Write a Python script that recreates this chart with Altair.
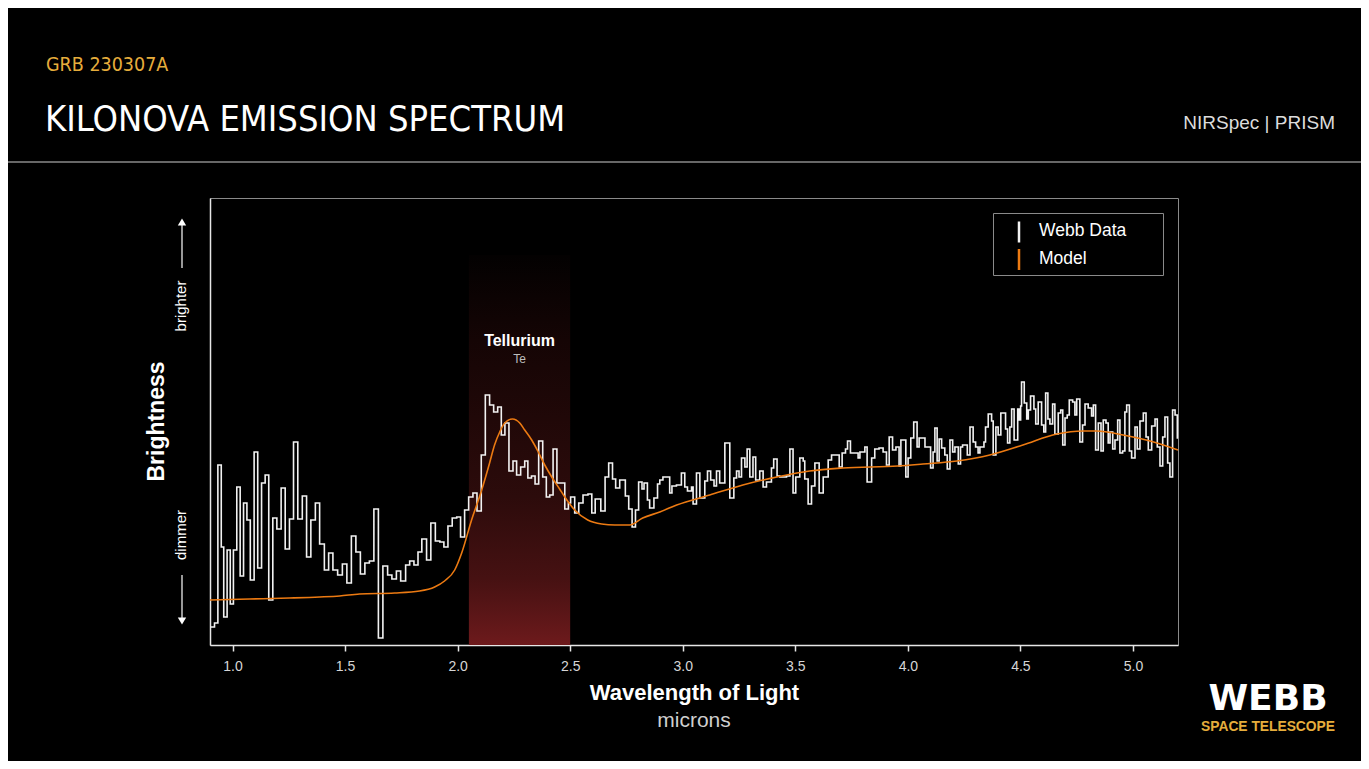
import altair as alt
import pandas as pd

# ---------------- data ----------------
# Webb data: step spectrum, bin left edges (microns) and brightness (arbitrary units)
wl_a = [0.902, 0.920, 0.935, 0.950, 0.961, 0.976, 0.990, 1.004, 1.019, 1.034,
        1.049, 1.064, 1.079, 1.096, 1.112, 1.129, 1.145, 1.161, 1.179, 1.197,
        1.216, 1.234, 1.253, 1.271, 1.290, 1.310, 1.329, 1.348, 1.368, 1.387,
        1.408, 1.427, 1.446, 1.467, 1.488, 1.508, 1.528, 1.548, 1.568, 1.588,
        1.608, 1.628, 1.648, 1.668, 1.689, 1.708, 1.728, 1.747]
fl_a = [0.18, 0.22, 1.80, 0.98, 0.28, 0.95, 0.41, 0.95, 1.58, 0.69,
        1.42, 1.25, 0.65, 1.93, 0.77, 1.62, 1.70, 0.45, 1.27, 1.16,
        1.57, 0.96, 1.26, 2.03, 1.26, 1.49, 0.88, 1.25, 1.42, 1.01,
        0.75, 0.92, 0.75, 0.70, 0.81, 0.62, 1.09, 0.93, 0.71, 0.82,
        0.84, 1.36, 0.07, 0.79, 0.70, 0.66, 0.74, 0.64]
wl_b = [1.769, 1.787, 1.806, 1.824, 1.841, 1.862, 1.881, 1.901, 1.921, 1.939,
        1.957, 1.976, 1.996, 2.013, 2.031, 2.049, 2.068, 2.086, 2.105, 2.123,
        2.142, 2.160, 2.178, 2.194, 2.210, 2.228, 2.246, 2.262, 2.280, 2.298,
        2.312, 2.328, 2.344, 2.360, 2.378, 2.394, 2.409, 2.424, 2.441, 2.458,
        2.476, 2.492, 2.502, 2.520, 2.538, 2.557, 2.579, 2.596, 2.611, 2.636, 2.655]
fl_b = [0.80, 0.84, 0.80, 0.93, 1.06, 0.85, 1.22, 1.04, 1.03, 0.98,
        1.19, 1.27, 1.28, 1.08, 1.35, 1.48, 1.52, 1.34, 1.90, 2.50,
        2.40, 2.33, 2.38, 2.10, 2.22, 1.74, 1.84, 1.70, 1.78, 1.84,
        1.67, 1.69, 1.61, 2.04, 1.68, 1.48, 1.50, 1.96, 1.62, 1.62,
        1.36, 1.42, 1.48, 1.32, 1.42, 1.50, 1.51, 1.32, 1.46, 1.34, 1.68]
wl_c = [2.671, 2.688, 2.702, 2.720, 2.745, 2.760, 2.775, 2.790, 2.804, 2.819,
        2.828, 2.843, 2.853, 2.872, 2.888, 2.898, 2.912, 2.942, 2.952, 2.972,
        2.994, 3.009, 3.021, 3.039, 3.046, 3.061, 3.076, 3.098, 3.110, 3.124,
        3.139, 3.150, 3.164, 3.187, 3.209, 3.227, 3.239, 3.250, 3.261, 3.276,
        3.286, 3.298, 3.312, 3.324, 3.342, 3.357, 3.372, 3.394, 3.404, 3.419,
        3.431, 3.461, 3.476, 3.490, 3.502, 3.520, 3.535, 3.542, 3.557, 3.572,
        3.587, 3.606, 3.624, 3.646, 3.661, 3.695, 3.708, 3.723, 3.732, 3.745,
        3.779, 3.787, 3.809, 3.819, 3.839, 3.853, 3.872, 3.890, 3.905]
fl_c = [1.82, 1.66, 1.57, 1.65, 1.49, 1.36, 1.18, 1.35, 1.63, 1.56,
        1.62, 1.45, 1.37, 1.47, 1.61, 1.65, 1.68, 1.52, 1.59, 1.60,
        1.72, 1.58, 1.54, 1.58, 1.41, 1.72, 1.47, 1.64, 1.74, 1.65,
        1.59, 1.74, 1.62, 2.02, 1.47, 1.67, 1.74, 1.68, 1.87, 1.78,
        1.96, 1.68, 1.88, 1.65, 1.74, 1.58, 1.63, 1.77, 1.86, 1.69,
        1.68, 1.69, 1.96, 1.52, 1.68, 1.87, 1.84, 1.66, 1.41, 1.59,
        1.82, 1.52, 1.68, 1.85, 1.90, 1.78, 1.92, 1.96, 2.04, 1.92,
        1.87, 1.93, 1.98, 1.63, 1.87, 1.96, 1.97, 1.93, 1.80]
wl_d = [3.917, 3.932, 3.947, 3.961, 3.969, 3.991, 4.001, 4.013, 4.026,
        4.041, 4.050, 4.076, 4.101, 4.112, 4.120, 4.130, 4.139, 4.150, 4.164,
        4.175, 4.187, 4.199, 4.209, 4.224, 4.234, 4.243, 4.264, 4.276, 4.290,
        4.301, 4.312, 4.320, 4.338, 4.345, 4.357, 4.372, 4.379, 4.391, 4.401,
        4.413, 4.434, 4.443, 4.453, 4.461, 4.472, 4.488, 4.495, 4.501, 4.505,
        4.517, 4.528, 4.535, 4.545, 4.560, 4.568, 4.579, 4.594, 4.604, 4.612,
        4.622, 4.631, 4.643, 4.653, 4.668, 4.679, 4.688, 4.698, 4.708, 4.717,
        4.732, 4.742, 4.750, 4.764, 4.776, 4.787, 4.801, 4.816, 4.824, 4.834,
        4.846, 4.858, 4.868, 4.880, 4.890, 4.898, 4.910, 4.920, 4.932, 4.942,
        4.954, 4.964, 4.972, 4.984, 4.994, 5.009, 5.019, 5.031, 5.046, 5.058,
        5.068, 5.083, 5.098, 5.108, 5.120, 5.132, 5.142, 5.154, 5.164, 5.176,
        5.187, 5.197, 5.200]
fl_d = [2.08, 1.95, 1.98, 1.79, 2.05, 1.68, 1.87, 2.07, 2.23,
        1.98, 2.07, 1.98, 1.77, 1.93, 2.17, 1.84, 2.06, 1.97, 1.90,
        1.76, 2.05, 1.93, 1.98, 1.81, 1.98, 2.00, 1.90, 2.18, 2.03,
        1.98, 1.92, 1.98, 2.03, 2.18, 2.31, 2.24, 1.90, 2.18, 2.10,
        2.32, 2.16, 2.02, 2.18, 2.36, 2.05, 2.36, 2.25, 2.39, 2.63,
        2.42, 2.26, 2.35, 2.49, 2.36, 2.21, 2.43, 2.20, 2.13, 2.52,
        2.26, 2.21, 2.41, 2.11, 2.32, 2.35, 2.00, 2.27, 2.30, 2.45,
        2.43, 2.30, 2.46, 2.03, 2.20, 2.41, 2.37, 2.29, 2.40, 1.95,
        2.22, 1.94, 2.25, 2.22, 2.02, 2.13, 1.96, 2.05, 2.25, 1.92,
        1.94, 2.33, 2.40, 1.94, 1.87, 2.18, 1.96, 2.24, 2.32, 2.08,
        1.95, 2.19, 2.26, 1.98, 1.79, 2.08, 2.28, 1.82, 1.68, 2.35,
        2.30, 2.07, 2.07]

# Model curve
model_wl = [0.900, 1.076, 1.253, 1.387, 1.476, 1.564, 1.720, 1.831, 1.898, 1.942,
            1.987, 2.018, 2.062, 2.107, 2.142, 2.164, 2.187, 2.209, 2.244, 2.276,
            2.298, 2.329, 2.356, 2.387, 2.418, 2.453, 2.476, 2.520, 2.578, 2.640,
            2.698, 2.764, 2.822, 2.898, 2.973, 3.120, 3.267, 3.418, 3.564, 3.711,
            3.956, 4.067, 4.218, 4.364, 4.511, 4.662, 4.778, 4.840, 4.956, 5.076, 5.200]
model_flux = [0.45, 0.46, 0.47, 0.48, 0.49, 0.51, 0.52, 0.54, 0.58, 0.64,
              0.75, 0.92, 1.25, 1.55, 1.82, 2.00, 2.13, 2.22, 2.26, 2.22,
              2.15, 2.05, 1.94, 1.80, 1.68, 1.56, 1.48, 1.35, 1.25, 1.21,
              1.20, 1.20, 1.27, 1.33, 1.40, 1.50, 1.60, 1.68, 1.74, 1.77,
              1.79, 1.81, 1.84, 1.90, 2.00, 2.11, 2.14, 2.14, 2.10, 2.04, 1.95]

tick_values = [1.0, 1.5, 2.0, 2.5, 3.0, 3.5, 4.0, 4.5, 5.0]
x_domain = [0.9, 5.2]
y_domain = [0.0, 4.47]
band_start, band_end, band_top = [2.05], [2.5], [3.9]
band_label, band_symbol = "Tellurium", "Te"
series_names = ["Webb Data", "Model"]

wavelength = wl_a + wl_b + wl_c + wl_d
brightness = fl_a + fl_b + fl_c + fl_d
assert len(wavelength) == len(brightness)
assert len(model_wl) == len(model_flux)

# ---------------- styling ----------------
WHITE = "#f2f2f2"
ORANGE = "#ec7a12"
GOLD = "#e6ad3c"
GRAY = "#8a8a8a"
SANS = "Liberation Sans, Arial, sans-serif"
NARROW = "DejaVu Sans Condensed, Liberation Sans Narrow, sans-serif"

xscale = alt.Scale(domain=x_domain, nice=False, zero=False)
yscale = alt.Scale(domain=y_domain, nice=False, zero=False)
xaxis = alt.Axis(values=tick_values, format=".1f", grid=False,
                 domainColor="#e6e6e6", domainWidth=1.5,
                 tickColor="#e6e6e6", tickSize=6, tickWidth=1.5,
                 labelColor="#d6d6d6", labelFont=SANS, labelFontSize=14, labelPadding=8,
                 title="Wavelength of Light", titleColor="#ffffff", titleFont=SANS,
                 titleFontSize=22, titleFontWeight="bold", titleX=484, titleY=54,
                 titleAlign="center", titleBaseline="alphabetic")
yaxis = alt.Axis(grid=False, labels=False, ticks=False,
                 domainColor="#e6e6e6", domainWidth=1.5,
                 title="Brightness", titleColor="#ffffff", titleFont=SANS,
                 titleFontSize=23, titleFontWeight="bold", titleAngle=270,
                 titleX=-47, titleY=223, titleAlign="center", titleBaseline="alphabetic")


def X(field):
    return alt.X(field, type="quantitative", scale=xscale, axis=xaxis)


def Y(field):
    return alt.Y(field, type="quantitative", scale=yscale, axis=yaxis)


def label(text, x, y, **kw):
    return alt.Chart(pd.DataFrame({"label": [text]})).mark_text(**kw).encode(
        x=alt.value(x), y=alt.value(y), text=alt.Text("label:N"))


def rule(x, y, x2, y2, color, width):
    return alt.Chart(pd.DataFrame({"k": [0]})).mark_rule(color=color, strokeWidth=width).encode(
        x=alt.value(x), x2=alt.value(x2), y=alt.value(y), y2=alt.value(y2))


# ---------------- layers ----------------
gradient = alt.LinearGradient(
    gradient="linear", x1=0, x2=0, y1=0, y2=1,
    stops=[alt.GradientStop(color="#030101", offset=0.0),
           alt.GradientStop(color="#150505", offset=0.22),
           alt.GradientStop(color="#2c0b0b", offset=0.62),
           alt.GradientStop(color="#461112", offset=0.83),
           alt.GradientStop(color="#6d1a1c", offset=1.0)])

band = alt.Chart(pd.DataFrame({"start": band_start, "end": band_end,
                               "low": [0.0], "high": band_top})).mark_rect(color=gradient).encode(
    x=X("start"), x2="end", y=Y("low"), y2="high")

data_line = alt.Chart(pd.DataFrame({"wavelength": wavelength, "brightness": brightness})).mark_line(
    interpolate="step-after", color=WHITE, strokeWidth=1.6).encode(
    x=X("wavelength"), y=Y("brightness"))

model_line = alt.Chart(pd.DataFrame({"wavelength": model_wl, "brightness": model_flux})).mark_line(
    interpolate="monotone", color=ORANGE, strokeWidth=1.6).encode(
    x=X("wavelength"), y=Y("brightness"))

band_center = (band_start[0] + band_end[0]) / 2
band_text = alt.Chart(pd.DataFrame({"label": [band_label], "wavelength": [band_center]})).mark_text(
    font=SANS, fontSize=16, fontWeight="bold", color="#ffffff", align="center",
    baseline="alphabetic").encode(x=X("wavelength"), y=alt.value(148), text="label:N")
band_sym = alt.Chart(pd.DataFrame({"label": [band_symbol], "wavelength": [band_center]})).mark_text(
    font=SANS, fontSize=12, color="#bdbdbd", align="center",
    baseline="alphabetic").encode(x=X("wavelength"), y=alt.value(165), text="label:N")

# legend (box, swatches, labels)
legend_box = alt.Chart(pd.DataFrame({"k": [0]})).mark_rect(
    fill="#000000", stroke=GRAY, strokeWidth=1).encode(
    x=alt.value(783.5), x2=alt.value(953.5), y=alt.value(15.5), y2=alt.value(77.5))
legend_layers = [
    legend_box,
    rule(809, 23.5, 809, 44.5, WHITE, 2.5),
    rule(809, 51, 809, 72, ORANGE, 2.5),
    label(series_names[0], 829, 37.7, font=SANS, fontSize=17.5, color="#ffffff",
          align="left", baseline="alphabetic"),
    label(series_names[1], 829, 66, font=SANS, fontSize=17.5, color="#ffffff",
          align="left", baseline="alphabetic"),
]

# header
header = [
    label("GRB 230307A", -164, -127.3, font=NARROW, fontSize=19.5, color=GOLD,
          align="left", baseline="alphabetic"),
    label("KILONOVA EMISSION SPECTRUM", -165, -67.3, font=NARROW, fontSize=36,
          color="#ffffff", align="left", baseline="alphabetic"),
    label("NIRSpec | PRISM", 1125, -69, font=SANS, fontSize=19, color="#dcdcdc",
          align="right", baseline="alphabetic"),
    rule(-202, -36, 1151, -36, GRAY, 1.5),
]

# brightness arrows
arrows = [
    label("brighter", -24.5, 108, font=SANS, fontSize=15, color="#ffffff", angle=270,
          align="center", baseline="alphabetic"),
    label("dimmer", -24.5, 337, font=SANS, fontSize=15, color="#ffffff", angle=270,
          align="center", baseline="alphabetic"),
    rule(-28, 27, -28, 70, "#ffffff", 1.2),
    rule(-28, 377, -28, 420, "#ffffff", 1.2),
    alt.Chart(pd.DataFrame({"k": [0]})).mark_point(shape="triangle-up", filled=True, size=70,
                                                   color="#ffffff", opacity=1).encode(
        x=alt.value(-28), y=alt.value(24)),
    alt.Chart(pd.DataFrame({"k": [0]})).mark_point(shape="triangle-down", filled=True, size=70,
                                                   color="#ffffff", opacity=1).encode(
        x=alt.value(-28), y=alt.value(423)),
]

footer = [
    label("microns", 484, 529.3, font=SANS, fontSize=21, color="#cfcfcf",
          align="center", baseline="alphabetic"),
    label("WEBB", 1058, 511.5, font="DejaVu Sans, sans-serif", fontSize=36, fontWeight="bold",
          color="#ffffff", align="center", baseline="alphabetic"),
    label("SPACE TELESCOPE", 1058, 532.5, font=SANS, fontSize=13.8, fontWeight="bold",
          color=GOLD, align="center", baseline="alphabetic"),
]

chart = alt.layer(band, data_line, model_line, band_text, band_sym,
                  *legend_layers, *header, *arrows, *footer).properties(
    width=968, height=447,
    padding={"left": 202, "top": 190, "right": 183, "bottom": 116},
    autosize=alt.AutoSizeParams(type="none"),
    background="#000000",
).configure_view(stroke=GRAY, strokeWidth=1)

chart.save("out.html", embed_options={"renderer": "svg", "actions": False})
